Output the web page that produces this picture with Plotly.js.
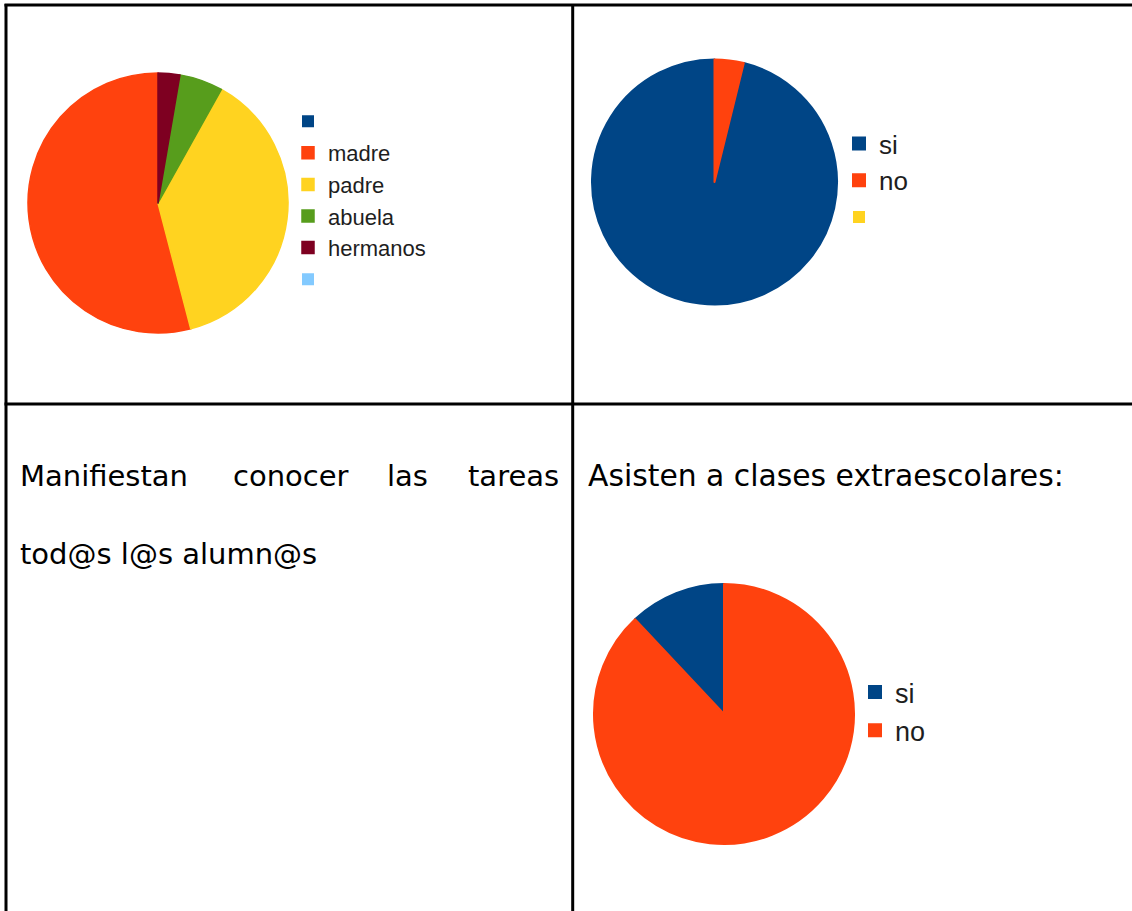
<!DOCTYPE html>
<html>
<head>
<meta charset="utf-8">
<script src="https://cdn.plot.ly/plotly-3.0.1.min.js"></script>
<style>
  html, body { margin: 0; padding: 0; background: #ffffff; }
  #chart { width: 1132px; height: 911px; }
</style>
</head>
<body>
<div id="chart"></div>
<script>
// ---- data ----
// (blank legend entries of the original keep distinct whitespace labels,
//  because Plotly shares pie legend entries by label across traces)
var familyLabels = [' ', 'madre', 'padre', 'abuela', 'hermanos', '  '];
var familyValues = [0, 20, 14, 2, 1, 0];
var familyColors = ['#004586', '#ff420e', '#ffd320', '#579d1c', '#7e0021', '#83caff'];

var tasksLabels = ['si', 'no', '   '];
var tasksValues = [25, 1, 0];
var tasksColors = ['#004586', '#ff420e', '#ffd320'];

var extraLabels = ['si ', 'no '];
var extraValues = [3, 22];
var extraColors = ['#004586', '#ff420e'];

var textLine1 = ['Manifiestan', 'conocer', 'las', 'tareas'];
var textLine2 = 'tod@s l@s alumn@s';
var textRight = 'Asisten a clases extraescolares:';

// ---- layout helpers (pixels -> paper) ----
var W = 1132, H = 911;
function px(x) { return x / W; }
function py(y) { return 1 - y / H; }

function pieTrace(labels, values, colors, dom, legendId, lw) {
  var total = values.reduce(function (a, b) { return a + b; }, 0);
  // Plotly puts the first slice clockwise of `rotation` when direction is
  // counterclockwise; shift so the first slice starts at 12 o'clock going ccw.
  var rot = -360 * values[0] / total;
  var widths = values.map(function (v) { return v > 0 ? lw : 0; });
  return {
    type: 'pie',
    labels: labels,
    values: values,
    sort: false,
    direction: 'counterclockwise',
    rotation: rot,
    textinfo: 'none',
    hoverinfo: 'label+value+percent',
    marker: { colors: colors, line: { color: colors, width: widths } },
    domain: { x: [px(dom[0]), px(dom[1])], y: [py(dom[3]), py(dom[2])] },
    legend: legendId,
    showlegend: true
  };
}

var data = [
  pieTrace(familyLabels, familyValues, familyColors, [28, 288, 73, 333], 'legend', 1.5),
  pieTrace(tasksLabels, tasksValues, tasksColors, [592, 837, 59, 305], 'legend2', 2),
  pieTrace(extraLabels, extraValues, extraColors, [594, 854, 584, 844], 'legend3', 2)
];

function hline(y, x0, x1) {
  return { type: 'line', xref: 'paper', yref: 'paper', x0: px(x0), x1: px(x1), y0: py(y), y1: py(y), line: { color: '#000000', width: 3 } };
}
function vline(x, y0, y1) {
  return { type: 'line', xref: 'paper', yref: 'paper', x0: px(x), x1: px(x), y0: py(y0), y1: py(y1), line: { color: '#000000', width: 3 } };
}

function ann(text, x, y, xanchor, size) {
  return { text: text, xref: 'paper', yref: 'paper', x: px(x), y: py(y), xanchor: xanchor, yanchor: 'middle',
           showarrow: false, font: { family: 'DejaVu Sans', size: size, color: '#000000' } };
}
var wordX = [18, 231, 385, 561];
var wordAnchor = ['left', 'left', 'left', 'right'];
var annotations = textLine1.map(function (w, i) { return ann(w, wordX[i], 476, wordAnchor[i], 29); });
annotations.push(ann(textLine2, 18, 554, 'left', 29));
annotations.push(ann(textRight, 586, 475, 'left', 29.8));

var legendBase = { bgcolor: 'rgba(0,0,0,0)', borderwidth: 0, xanchor: 'left', yanchor: 'top', traceorder: 'normal' };

var layout = {
  width: W, height: H,
  margin: { l: 0, r: 0, t: 0, b: 0, pad: 0 },
  paper_bgcolor: '#ffffff',
  plot_bgcolor: '#ffffff',
  showlegend: true,
  legend: Object.assign({}, legendBase, { x: px(288), y: py(100.4), font: { family: 'Liberation Sans', size: 22, color: '#1e1e1e' } }),
  legend2: Object.assign({}, legendBase, { x: px(839), y: py(120), font: { family: 'Liberation Sans', size: 26, color: '#1e1e1e' } }),
  legend3: Object.assign({}, legendBase, { x: px(855), y: py(668), font: { family: 'Liberation Sans', size: 27, color: '#1e1e1e' } }),
  shapes: [
    hline(5, 4.5, W),
    hline(404, 4.5, W),
    vline(6, 4, H),
    vline(572.7, 4, H)
  ],
  annotations: annotations
};

Plotly.newPlot('chart', data, layout, { displayModeBar: false, staticPlot: true });
</script>
</body>
</html>
